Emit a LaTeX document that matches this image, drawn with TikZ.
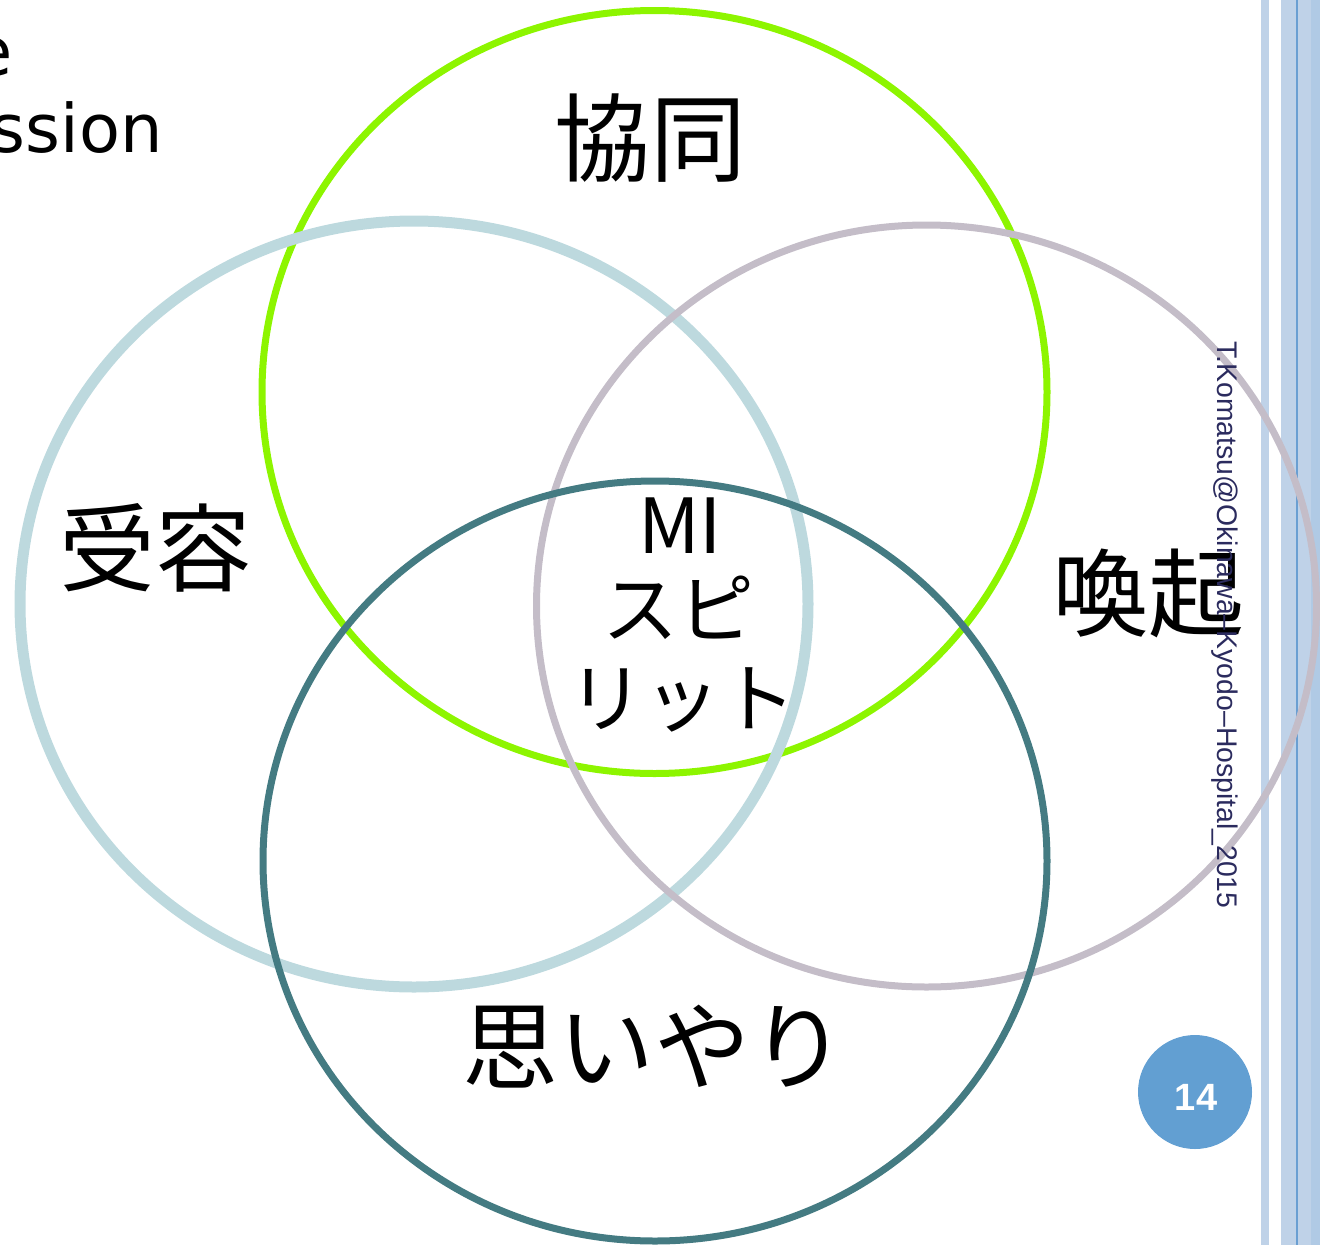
\documentclass[tikz,border=0pt]{standalone}
\usepackage{fontspec}
\setmainfont{DejaVu Sans}
\newfontfamily\cjk{Noto Sans CJK JP}
\newfontfamily\arialf{Liberation Sans}
\usetikzlibrary{shapes.geometric}
\definecolor{cgreen}{HTML}{8DF500}
\definecolor{cltblue}{HTML}{BDD9DE}
\definecolor{cgray}{HTML}{C4BDC8}
\definecolor{cteal}{HTML}{447B82}
\definecolor{cnavy}{HTML}{2B2B5E}
\definecolor{cpage}{HTML}{629FD2}
\definecolor{cstripe}{HTML}{BFD2E8}
\definecolor{cstripeb}{HTML}{B0CAE5}
\definecolor{cline}{HTML}{6A9FD2}
\tikzset{
  ring/.style={ellipse, inner sep=0pt, draw, fill=none},
  bigword/.style={font=\cjk\fontsize{96}{110}\selectfont, inner sep=0pt},
  midword/.style={font=\cjk\fontsize{76}{88}\selectfont, inner sep=0pt},
}
\begin{document}
\begin{tikzpicture}[x=1pt,y=-1pt]
\useasboundingbox (0,0) rectangle (1320,1245);
% right stripes
\fill[cstripe] (1261,0) rectangle (1269,1245);
\fill[cstripe] (1281,0) rectangle (1320,1245);
\fill[cstripeb] (1311,0) rectangle (1320,1245);
\fill[cline] (1296,0) rectangle (1298,1245);
% circles
\node[ring, draw=cgreen, line width=7pt, minimum width=785pt, minimum height=763pt] (kyodo) at (654.5,392) {};
\node[ring, draw=cltblue, line width=11pt, minimum width=788pt, minimum height=766pt] (juyo) at (414,604) {};
\node[ring, draw=cgray, line width=7pt, minimum width=780pt, minimum height=762pt] (kanki) at (926.5,606) {};
\node[ring, draw=cteal, line width=7pt, minimum width=784pt, minimum height=760pt] (omoi) at (655,861) {};
% texts
\node[bigword] (t1) at (650,138) {協同};
\node[bigword] (t2) at (155,548) {受容};
\node[bigword] (t3) at (1148,593) {喚起};
\node[bigword] (t4) at (654,1047) {思いやり};
\node[midword] (m1) at (680,526) {MI};
\node[midword] (m2) at (678,608) {スピ};
\node[midword] (m3) at (682,700) {リット};
% partial text top-left
\node[font=\fontsize{67}{77}\selectfont, anchor=base east, inner sep=0pt] (e1) at (13,75) {e};
\node[font=\fontsize{67}{77}\selectfont, anchor=base east, inner sep=0pt] (e2) at (163,152) {ssion};
% rotated credit
\node[font=\arialf\fontsize{28.4}{32}\selectfont, text=cnavy, rotate=-90, inner sep=0pt] (credit) at (1225,625) {T.Komatsu@Okinawa–Kyodo–Hospital\_2015};
% page number
\node[circle, fill=cpage, minimum size=114pt, inner sep=0pt] (page) at (1195,1092) {};
\node[text=white, font=\arialf\bfseries\fontsize{38}{40}\selectfont, inner sep=0pt] (pnum) at (1196,1097) {14};
\end{tikzpicture}
\end{document}
